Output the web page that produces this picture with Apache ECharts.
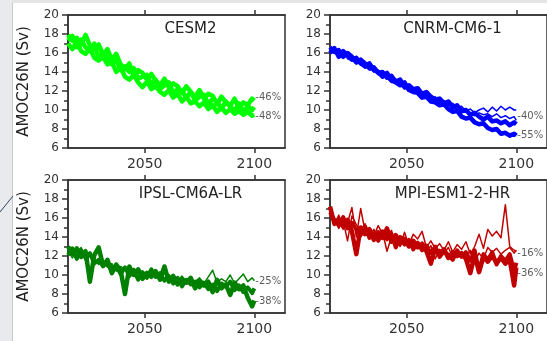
<!DOCTYPE html>
<html>
<head>
<meta charset="utf-8">
<script src="https://cdn.jsdelivr.net/npm/echarts@6/dist/echarts.min.js"></script>
<style>
html, body { margin: 0; padding: 0; background: #fff; }
#main { width: 547px; height: 341px; }
</style>
</head>
<body>
<div id="main"></div>
<script>
// years: every other year from 2015, plus 2100
var years = [];
for (var yr = 2015; yr < 2100; yr += 2) years.push(yr);
years.push(2100);

// CESM2 members
var cesmA = [17.9, 17.3, 17.6, 16.9, 17.9, 16.8, 16.4, 16.9, 15.8, 16.4,
             15.3, 15.9, 14.8, 14.3, 14.9, 13.6, 14.2, 13.9, 13.2, 13.8,
             13.1, 12.6, 13.3, 12.4, 12.8, 12.5, 11.8, 12.5, 11.9, 11.4,
             12.1, 11.2, 11.7, 11.5, 10.6, 11.4, 10.8, 10.4, 11.2, 10.2,
             10.8, 10.5, 11.2, 11.0];
var cesmB = [17.3, 17.8, 16.6, 17.4, 16.6, 16.2, 17.0, 15.5, 16.1, 15.5,
             14.8, 15.3, 14.2, 14.6, 14.0, 14.4, 13.3, 13.5, 13.7, 12.7,
             13.2, 12.2, 12.6, 12.9, 11.8, 12.2, 12.0, 11.3, 11.9, 11.0,
             11.4, 11.6, 10.6, 11.2, 10.9, 10.1, 10.9, 10.4, 9.9, 10.7,
             9.8, 10.4, 10.0, 10.3];
var cesmC = [17.0, 16.4, 17.2, 16.2, 15.9, 16.5, 15.5, 15.2, 15.6, 14.8,
             15.1, 14.0, 14.5, 13.5, 13.2, 13.7, 12.9, 12.4, 13.0, 12.2,
             12.5, 11.9, 11.6, 12.1, 11.3, 11.7, 10.9, 11.4, 10.7, 10.9,
             10.4, 10.8, 10.1, 10.5, 9.8, 10.3, 9.7, 10.1, 9.6, 9.9,
             9.5, 9.8, 9.4, 9.5];

// CNRM-CM6-1 members
var cnrmA = [16.0, 16.5, 15.6, 16.2, 15.8, 15.3, 15.5, 14.9, 14.6, 14.9,
             14.2, 14.0, 13.5, 13.9, 13.1, 12.9, 12.6, 12.9, 12.1, 11.9,
             11.8, 11.3, 11.4, 10.9, 10.8, 10.5, 10.6, 10.1, 9.8, 9.9,
             9.3, 9.1, 9.2, 8.7, 8.5, 8.6, 8.1, 7.9, 8.0, 7.5,
             7.6, 7.3, 7.5, 7.3];
var cnrmB = [16.6, 16.1, 16.3, 15.6, 16.0, 15.6, 15.0, 15.3, 14.9, 14.4,
             14.5, 13.9, 14.0, 13.4, 13.6, 13.0, 13.2, 12.4, 12.6, 12.2,
             12.3, 11.7, 11.9, 11.4, 11.1, 11.2, 10.7, 10.9, 10.3, 10.5,
             9.9, 10.0, 9.5, 9.7, 9.3, 9.0, 9.3, 8.8, 8.9, 8.6,
             8.8, 8.4, 8.7, 8.5];
var cnrmC = [16.6, 16.1, 16.2, 15.6, 15.7, 15.4, 14.9, 15.0, 14.4, 14.6,
             14.0, 14.2, 13.5, 13.6, 12.9, 13.1, 12.7, 12.2, 12.4, 11.9,
             12.1, 11.5, 11.7, 11.2, 11.4, 10.8, 11.0, 10.5, 10.7, 10.2,
             10.4, 9.9, 10.1, 9.7, 10.0, 10.2, 9.8, 10.3, 9.9, 10.4,
             10.0, 10.3, 10.0, 10.0];
var cnrmD = [16.0, 16.4, 15.7, 16.1, 15.4, 15.2, 15.4, 14.7, 14.8, 14.2,
             14.3, 13.7, 13.8, 13.3, 13.0, 13.2, 12.6, 12.3, 12.4, 12.0,
             11.7, 11.8, 11.2, 11.3, 10.8, 10.9, 10.5, 10.6, 10.1, 10.2,
             9.7, 9.8, 9.6, 9.4, 9.7, 9.5, 9.6, 9.3, 9.6, 9.2,
             9.4, 9.1, 9.3, 8.9];

// IPSL-CM6A-LR members
var ipslA = [13.0, 12.2, 12.8, 11.9, 12.5, 9.3, 12.1, 12.9, 11.0, 11.6,
             10.2, 11.1, 10.5, 8.0, 10.9, 10.0, 10.6, 9.6, 10.2, 9.8,
             10.4, 9.5, 10.9, 9.3, 9.9, 9.0, 9.6, 9.2, 9.7, 8.6,
             9.4, 8.9, 9.3, 8.2, 9.5, 8.6, 9.0, 7.9, 9.2, 8.5,
             8.9, 7.6, 6.7, 7.3];
var ipslB = [12.1, 12.8, 11.7, 12.6, 11.8, 12.3, 11.2, 11.6, 10.9, 11.4,
             10.6, 11.0, 10.1, 10.8, 9.9, 10.5, 9.5, 10.3, 9.7, 10.6,
             9.8, 10.2, 9.4, 9.9, 9.1, 9.7, 8.8, 9.5, 9.0, 9.3,
             8.7, 9.2, 8.5, 9.0, 8.3, 9.1, 8.8, 9.3, 8.4, 8.9,
             8.2, 8.7, 8.1, 8.6];
var ipslC = [12.6, 11.8, 12.4, 12.9, 11.5, 12.0, 11.6, 11.1, 11.5, 10.8,
             11.2, 10.4, 10.9, 10.6, 10.1, 10.7, 10.3, 9.9, 10.4, 9.8,
             10.1, 9.6, 10.2, 9.7, 9.8, 9.4, 9.9, 9.2, 9.6, 9.3,
             9.7, 9.1, 9.8, 10.5, 9.2, 9.6, 9.3, 10.0, 9.1, 9.6,
             10.1, 9.3, 9.7, 9.4];

// MPI-ESM1-2-HR members
var mpiA = [17.2, 15.4, 15.9, 15.1, 15.8, 14.6, 12.2, 15.0, 14.3, 14.8,
            13.7, 14.5, 13.9, 14.9, 13.5, 14.2, 13.3, 13.8, 13.0, 13.6,
            12.9, 13.3, 12.5, 11.2, 12.8, 12.2, 12.7, 11.8, 12.4, 12.0,
            12.3, 11.7, 10.2, 12.1, 10.3, 11.9, 11.4, 12.0, 11.3, 11.8,
            11.2, 11.6, 8.9, 10.8];
var mpiB = [16.6, 15.8, 15.2, 16.1, 14.9, 15.5, 14.8, 14.2, 15.1, 13.9,
            14.4, 13.6, 14.6, 13.8, 14.3, 12.9, 14.0, 13.2, 13.7, 12.7,
            13.4, 12.6, 13.1, 12.3, 13.0, 11.9, 12.5, 12.1, 11.6, 12.6,
            11.9, 12.4, 11.5, 12.6, 10.4, 12.2, 11.6, 12.4, 11.1, 12.0,
            11.5, 12.2, 10.4, 11.3];
var mpiC = [16.9, 15.2, 16.3, 14.8, 15.5, 17.1, 14.0, 17.0, 14.6, 15.0,
            14.1, 15.2, 14.3, 13.6, 14.7, 13.4, 14.1, 13.9, 13.2, 14.3,
            13.8, 14.6, 12.9, 13.6, 12.8, 13.3, 12.6, 13.5, 12.4, 13.2,
            12.7, 13.5, 12.2, 13.0, 14.3, 12.8, 14.8, 14.1, 14.6, 13.9,
            17.4, 13.0, 12.6, 12.5];
var mpiD = [16.2, 16.0, 14.9, 15.7, 13.6, 16.2, 15.3, 14.7, 15.4, 14.2,
            14.8, 13.9, 14.5, 12.5, 14.0, 13.6, 13.0, 14.5, 13.1, 12.9,
            13.5, 12.8, 12.4, 13.1, 11.7, 12.7, 12.3, 12.9, 11.9, 12.4,
            12.2, 11.9, 12.6, 11.4, 12.3, 11.7, 12.9, 12.4, 12.8, 12.2,
            12.6, 12.9, 12.3, 12.6];

var panelNames = ['CESM2', 'CNRM-CM6-1', 'IPSL-CM6A-LR', 'MPI-ESM1-2-HR'];
var pctText = [['-46%', '-48%'], ['-40%', '-55%'], ['-25%', '-38%'], ['-16%', '-36%']];
var pctAt = [[11.3, 9.3], [9.3, 7.3], [9.3, 7.2], [12.3, 10.2]];
var xTicks = [2050, 2100];

var colors = ['#00ff00', '#0000ff', '#008000', '#c00000'];
var panelSeries = [
    [[cesmA, 4.5], [cesmB, 4.5], [cesmC, 4.5]],
    [[cnrmA, 4.5], [cnrmB, 4.5], [cnrmC, 1.5], [cnrmD, 1.5]],
    [[ipslA, 4.5], [ipslB, 4], [ipslC, 1.5]],
    [[mpiA, 4.5], [mpiB, 4], [mpiC, 1.5], [mpiD, 1.5]]
];
var boxes = [
    {left: 68, top: 15, width: 217, height: 133},
    {left: 330, top: 15, width: 217, height: 133},
    {left: 68, top: 180, width: 217, height: 133},
    {left: 330, top: 180, width: 217, height: 133}
];

var font = 'DejaVu Sans';
var axisCol = '#333';
var grid = [], xAxis = [], yAxis = [], series = [];
var graphic = [
    {type: 'rect', shape: {x: 0, y: 0, width: 12, height: 341}, style: {fill: '#e8eaed'}, z: -1},
    {type: 'rect', shape: {x: 12, y: 0, width: 535, height: 3}, style: {fill: '#e4e4e4'}, z: -1},
    {type: 'line', shape: {x1: 12.5, y1: 3, x2: 12.5, y2: 341}, style: {stroke: '#c9c9c9', lineWidth: 1}},
    {type: 'line', shape: {x1: 0, y1: 212, x2: 13, y2: 196}, style: {stroke: '#34465c', lineWidth: 1}}
];

for (var i = 0; i < 4; i++) {
    var b = boxes[i];
    grid.push({left: b.left, top: b.top, width: b.width, height: b.height,
        show: true, borderColor: axisCol, borderWidth: 1.5, backgroundColor: 'transparent'});
    var xBase = {
        gridIndex: i, type: 'value', min: 2015, max: 2114,
        axisLine: {show: true, lineStyle: {color: axisCol, width: 1.5}},
        axisTick: {show: true, customValues: xTicks, length: 5, lineStyle: {color: axisCol, width: 1.5}},
        splitLine: {show: false}
    };
    xAxis.push(Object.assign({}, xBase, {position: 'bottom',
        axisLabel: {customValues: xTicks, fontSize: 14, color: axisCol, margin: 9, fontFamily: font,
            formatter: function (v) { return String(v); }}}));
    xAxis.push(Object.assign({}, xBase, {position: 'top', axisLabel: {show: false}}));
    yAxis.push({
        gridIndex: i, type: 'value', min: 6, max: 20, interval: 2,
        name: i % 2 === 0 ? 'AMOC26N (Sv)' : '',
        nameLocation: 'middle', nameGap: 36,
        nameTextStyle: {fontSize: 15, color: '#222', fontFamily: font},
        axisLine: {show: true, lineStyle: {color: axisCol, width: 1.5}},
        axisTick: {show: true, length: 6, lineStyle: {color: axisCol, width: 1.5}},
        minorTick: {show: true, splitNumber: 2, length: 4, lineStyle: {color: axisCol, width: 1.5}},
        axisLabel: {fontSize: 12, color: axisCol, margin: 9, fontFamily: font},
        splitLine: {show: false}
    });
    panelSeries[i].forEach(function (m) {
        series.push({
            type: 'line', xAxisIndex: 2 * i, yAxisIndex: i,
            data: m[0].map(function (v, k) { return [years[k], v]; }),
            showSymbol: false, symbol: 'none', silent: true,
            lineStyle: {color: colors[i], width: m[1], join: 'round'},
            itemStyle: {color: colors[i]}
        });
    });
    series.push({
        type: 'scatter', xAxisIndex: 2 * i, yAxisIndex: i, symbolSize: 0, silent: true,
        data: pctAt[i].map(function (v, k) {
            return {value: [2100, v], label: {formatter: pctText[i][k]}};
        }),
        label: {show: true, position: 'right', distance: 1, fontSize: 10, color: '#333', fontFamily: font}
    });
    graphic.push({
        type: 'text', x: b.left + b.width / 2 + 14, y: b.top + 14,
        style: {text: panelNames[i], fill: '#222', font: '15px "DejaVu Sans"', align: 'center', verticalAlign: 'middle'}
    });
}

var myChart = echarts.init(document.getElementById('main'));
myChart.setOption({
    animation: false,
    backgroundColor: '#fff',
    grid: grid,
    xAxis: xAxis,
    yAxis: yAxis,
    series: series,
    graphic: graphic
});
</script>
</body>
</html>
